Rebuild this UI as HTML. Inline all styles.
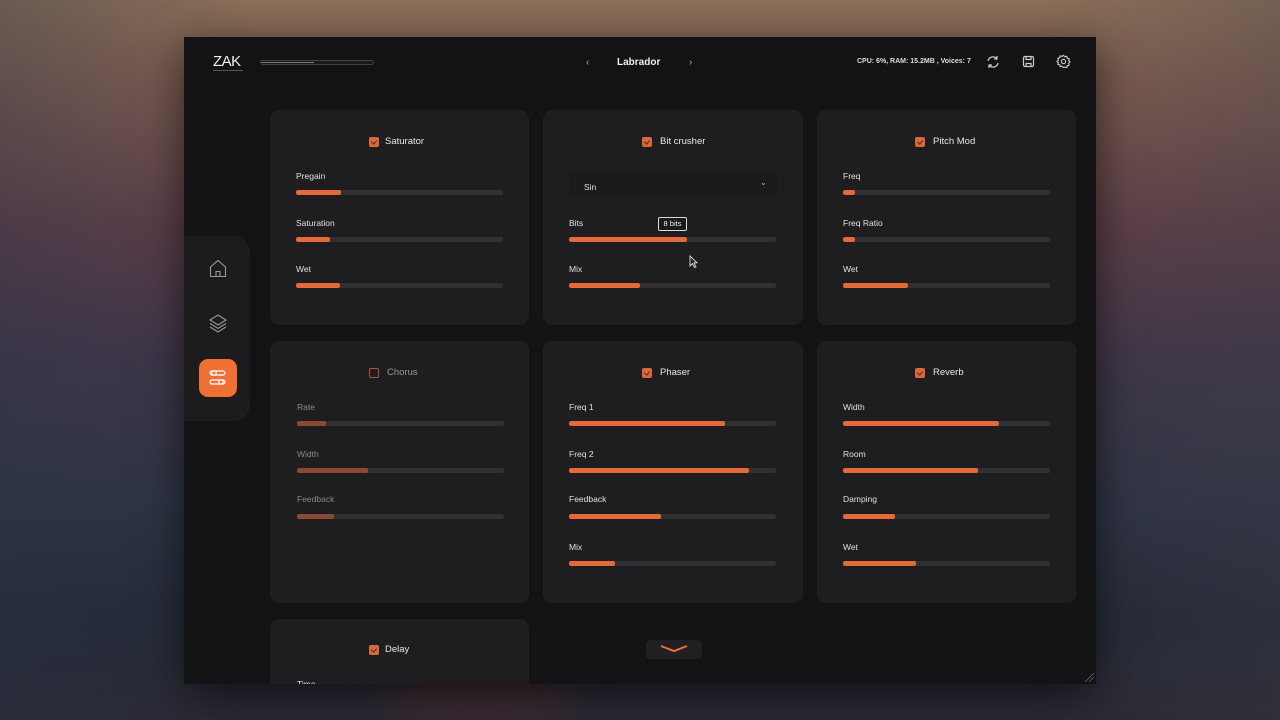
<!DOCTYPE html>
<html style="width:1280px;height:720px;overflow:hidden;background:#2b2a34"><head><meta charset="utf-8"><style>
*{margin:0;padding:0;box-sizing:border-box}
body{width:1280px;height:720px;overflow:hidden;position:relative;font-family:"Liberation Sans",sans-serif;
background:linear-gradient(180deg,#8d7058 0%,#7d5c50 12%,#5e3f48 32%,#403748 50%,#2f3444 70%,#262b38 85%,#2b2a34 100%);}
.bgl{position:absolute;left:0;top:0;width:1280px;height:720px;background:linear-gradient(90deg,rgba(40,50,70,0.35) 0%,rgba(0,0,0,0) 20%,rgba(0,0,0,0) 80%,rgba(60,60,70,0.3) 100%)}
.glow{position:absolute;left:380px;top:680px;width:200px;height:40px;border-radius:50%;background:rgba(120,50,50,0.35);filter:blur(20px)}
.win{position:absolute;left:184px;top:37px;width:912px;height:647px;background:#131315;overflow:hidden;box-shadow:0 10px 40px rgba(0,0,0,0.6)}
.a{position:absolute}
.card{position:absolute;background:#1e1e20;border-radius:9px}
.t{position:absolute;color:#e8e8e8;font-size:9.5px;white-space:nowrap}
.lab{position:absolute;color:#e0e0e0;font-size:8.5px;white-space:nowrap}
.tr{position:absolute;width:207px;height:5px;background:#313134;border-radius:2px;overflow:hidden}
.tr i{display:block;height:5px;background:#e56a38;border-radius:2px}
.cb{position:absolute;width:10px;height:10px;border-radius:2px;background:#d9683a}
.cb:after{content:"";position:absolute;left:3px;top:2px;width:3px;height:4px;border-right:1px solid #5a2a14;border-bottom:1px solid #5a2a14;transform:rotate(40deg)}
.dim .lab{color:#8a8a8a}.dim .tr i{background:#8a4a32}
</style></head><body>
<div class="bgl"></div><div class="glow"></div>
<div class="win">
<div class="a" style="left:29px;top:16px;color:#f0f0f0;font-size:15px;letter-spacing:-0.5px">ZAK</div>
<div class="a" style="left:29px;top:33px;width:30px;height:1px;background:#555"></div>
<div class="a" style="left:76px;top:23px;width:114px;height:5px;border:1px solid #444;border-radius:3px;background:#1a1a1c"></div>
<div class="a" style="left:78px;top:25px;width:52px;height:1px;background:#777"></div>
<div class="t" style="left:402px;top:20px;color:#aaa;font-size:10px">‹</div>
<div class="t" style="left:433px;top:20px;font-size:10px;font-weight:bold;color:#eee">Labrador</div>
<div class="t" style="left:505px;top:20px;color:#aaa;font-size:10px">›</div>
<div class="t" style="left:673px;top:21px;font-size:7px;font-weight:bold;color:#ddd">CPU: 6%, RAM: 15.2MB , Voices: 7</div>
<svg class="a" style="left:802px;top:18px" width="14" height="14" viewBox="0 0 14 14" fill="none" stroke="#ccc" stroke-width="1.2"><path d="M2 6a5 5 0 0 1 9-2M12 8a5 5 0 0 1-9 2"/><path d="M11 1v3H8M3 13v-3h3"/></svg>
<svg class="a" style="left:838px;top:18px" width="13" height="13" viewBox="0 0 13 13" fill="none" stroke="#ccc" stroke-width="1.2"><rect x="1.5" y="1.5" width="10" height="10" rx="1.5"/><path d="M4 1.5v3h5v-3M4 11.5v-3h5v3"/></svg>
<svg class="a" style="left:872px;top:17px" width="15" height="15" viewBox="0 0 16 16" fill="none" stroke="#ccc" stroke-width="1.2"><path d="M8 1.5l1.5 1.5 2-.5.5 2 2 .5-.5 2 1.5 1.5-1.5 1.5.5 2-2 .5-.5 2-2-.5L8 14.5 6.5 13l-2 .5-.5-2-2-.5.5-2L1 8l1.5-1.5-.5-2 2-.5.5-2 2 .5z"/><circle cx="8" cy="8" r="2.3"/></svg>
<div class="a" style="left:0;top:199px;width:66px;height:185px;background:#1c1c1f;border-radius:0 16px 16px 0"></div>
<svg class="a" style="left:25px;top:222px" width="18" height="19" viewBox="0 0 18 19" fill="none" stroke="#999" stroke-width="1.1"><path d="M1.5 8L9 1.5 16.5 8v9.5h-15z"/><path d="M7 17.5v-5h4v5"/></svg>
<svg class="a" style="left:24px;top:276px" width="20" height="20" viewBox="0 0 20 20" fill="none" stroke="#999" stroke-width="1.1"><path d="M10 2l8 5-8 5-8-5z"/><path d="M2 10.5l8 5 8-5M2 14l8 5 8-5"/></svg>
<div class="a" style="left:15px;top:322px;width:38px;height:38px;border-radius:9px;background:#ef6f35"></div>
<svg class="a" style="left:25px;top:332px" width="18" height="18" viewBox="0 0 18 18" fill="none" stroke="#fff" stroke-width="1.2"><rect x="1" y="2" width="15" height="4" rx="2"/><rect x="1" y="11" width="15" height="4" rx="2"/><circle cx="5" cy="4" r="2.2"/><circle cx="12" cy="13" r="2.2"/></svg>
<div class="card" style="left:86px;top:73px;width:259px;height:215px"></div>
<div class="card" style="left:359px;top:73px;width:260px;height:215px"></div>
<div class="card" style="left:633px;top:73px;width:259px;height:215px"></div>
<div class="card" style="left:86px;top:304px;width:259px;height:262px"></div>
<div class="card" style="left:359px;top:304px;width:260px;height:262px"></div>
<div class="card" style="left:633px;top:304px;width:259px;height:262px"></div>
<div class="card" style="left:86px;top:582px;width:259px;height:100px"></div>

<div class="cb" style="left:185px;top:100px"></div><div class="t" style="left:201px;top:99px">Saturator</div>
<div class="lab" style="left:112px;top:134px">Pregain</div><div class="tr" style="left:112px;top:153px"><i style="width:45px"></i></div>
<div class="lab" style="left:112px;top:181px">Saturation</div><div class="tr" style="left:112px;top:200px"><i style="width:34px"></i></div>
<div class="lab" style="left:112px;top:227px">Wet</div><div class="tr" style="left:112px;top:246px"><i style="width:44px"></i></div>
<div class="cb" style="left:458px;top:100px"></div><div class="t" style="left:476px;top:99px">Bit crusher</div>
<div class="a" style="left:385px;top:136px;width:208px;height:25px;background:#1b1b1d;border-radius:6px"></div>
<div class="lab" style="left:400px;top:145px">Sin</div>
<div class="t" style="left:576px;top:141px;color:#bbb;font-size:8px">⌄</div>
<div class="lab" style="left:385px;top:181px">Bits</div>
<div class="a" style="left:474px;top:180px;width:29px;height:14px;border:1.3px solid #ddd;border-radius:2px;background:#1a1a1c;color:#eee;font-size:7.5px;text-align:center;line-height:11px">8 bits</div>
<div class="tr" style="left:385px;top:200px"><i style="width:118px"></i></div>
<div class="lab" style="left:385px;top:227px">Mix</div><div class="tr" style="left:385px;top:246px"><i style="width:71px"></i></div>
<svg class="a" style="left:505px;top:218px" width="10" height="14" viewBox="0 0 10 14"><path d="M1 1v10l2.5-2.5 2 4 1.5-.7-2-4H8z" fill="#222" stroke="#ddd" stroke-width="0.9"/></svg>
<div class="cb" style="left:731px;top:100px"></div><div class="t" style="left:749px;top:99px">Pitch Mod</div>
<div class="lab" style="left:659px;top:134px">Freq</div><div class="tr" style="left:659px;top:153px"><i style="width:12px"></i></div>
<div class="lab" style="left:659px;top:181px">Freq Ratio</div><div class="tr" style="left:659px;top:200px"><i style="width:12px"></i></div>
<div class="lab" style="left:659px;top:227px">Wet</div><div class="tr" style="left:659px;top:246px"><i style="width:65px"></i></div>
<div class="dim">
<div class="a" style="left:185px;top:331px;width:10px;height:10px;border:1.2px solid #b5532d;border-radius:2px"></div><div class="t" style="left:203px;top:330px;color:#999">Chorus</div>
<div class="lab" style="left:113px;top:365px">Rate</div><div class="tr" style="left:113px;top:384px"><i style="width:29px"></i></div>
<div class="lab" style="left:113px;top:412px">Width</div><div class="tr" style="left:113px;top:431px"><i style="width:71px"></i></div>
<div class="lab" style="left:113px;top:457px">Feedback</div><div class="tr" style="left:113px;top:477px"><i style="width:37px"></i></div>
</div>
<div class="cb" style="left:458px;top:331px"></div><div class="t" style="left:476px;top:330px">Phaser</div>
<div class="lab" style="left:385px;top:365px">Freq 1</div><div class="tr" style="left:385px;top:384px"><i style="width:156px"></i></div>
<div class="lab" style="left:385px;top:412px">Freq 2</div><div class="tr" style="left:385px;top:431px"><i style="width:180px"></i></div>
<div class="lab" style="left:385px;top:457px">Feedback</div><div class="tr" style="left:385px;top:477px"><i style="width:92px"></i></div>
<div class="lab" style="left:385px;top:505px">Mix</div><div class="tr" style="left:385px;top:524px"><i style="width:46px"></i></div>
<div class="cb" style="left:731px;top:331px"></div><div class="t" style="left:749px;top:330px">Reverb</div>
<div class="lab" style="left:659px;top:365px">Width</div><div class="tr" style="left:659px;top:384px"><i style="width:156px"></i></div>
<div class="lab" style="left:659px;top:412px">Room</div><div class="tr" style="left:659px;top:431px"><i style="width:135px"></i></div>
<div class="lab" style="left:659px;top:457px">Damping</div><div class="tr" style="left:659px;top:477px"><i style="width:52px"></i></div>
<div class="lab" style="left:659px;top:505px">Wet</div><div class="tr" style="left:659px;top:524px"><i style="width:73px"></i></div>
<div class="cb" style="left:185px;top:608px"></div><div class="t" style="left:201px;top:607px">Delay</div>
<div class="lab" style="left:113px;top:642px">Time</div>
<div class="a" style="left:462px;top:603px;width:56px;height:19px;background:#202022;border-radius:4px"></div>
<svg class="a" style="left:476px;top:608px" width="28" height="8" viewBox="0 0 28 8"><path d="M1 1l13 5 13-5" fill="none" stroke="#ef6f35" stroke-width="2"/></svg>
<svg class="a" style="left:900px;top:635px" width="10" height="10"><path d="M1 10l9-9M5 10l5-5" stroke="#666" stroke-width="0.8"/></svg>
</div>
</body></html>
